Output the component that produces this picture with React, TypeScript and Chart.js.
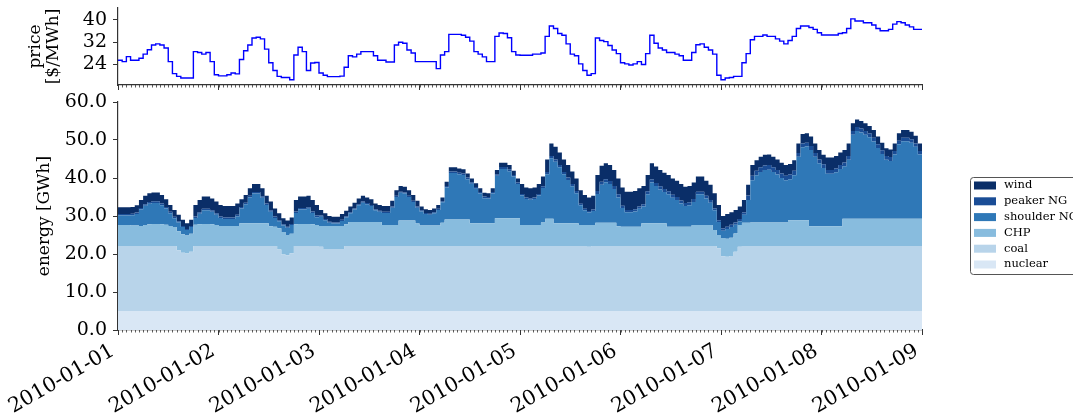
import React, { useEffect, useRef } from 'react';
import { Chart, registerables } from 'chart.js';
Chart.register(...registerables);

const FONT = "'DejaVu Serif', serif";
const AXIS = '#333333';

// x axis: hours since 2010-01-01 00:00
const hours = Array.from({ length: 193 }, (_, i) => i);
const dayTicks = [0, 24, 48, 72, 96, 120, 144, 168, 192];
const dayLabels = ['2010-01-01', '2010-01-02', '2010-01-03', '2010-01-04', '2010-01-05', '2010-01-06', '2010-01-07', '2010-01-08', '2010-01-09'];
const priceTicks = [24, 32, 40];
const energyTicks = [0, 10, 20, 30, 40, 50, 60];

// price [$/MWh]
const price = [
  25.5, 25.0, 26.8, 25.5, 25.5, 26.2, 27.7, 29.3, 31.0, 31.4, 31.0, 29.9, 25.0, 20.7, 19.7, 19.1, 19.1, 19.1, 28.6, 28.3, 27.7, 28.3, 25.0, 20.3,
  19.9, 19.9, 20.3, 20.9, 20.6, 25.8, 28.9, 31.0, 33.5, 33.8, 33.2, 29.5, 24.6, 21.8, 19.7, 19.3, 19.3, 18.5, 27.4, 30.2, 28.6, 21.8, 24.5, 24.7,
  20.9, 20.1, 19.6, 19.6, 19.6, 19.8, 23.0, 27.1, 26.7, 27.7, 28.6, 28.6, 28.6, 27.1, 25.5, 25.5, 24.9, 24.9, 31.0, 32.0, 31.6, 29.2, 28.1, 25.0,
  25.0, 25.0, 25.0, 25.0, 22.5, 27.4, 28.6, 34.8, 34.8, 34.8, 34.5, 33.8, 32.4, 28.6, 27.7, 26.7, 25.0, 25.0, 34.1, 35.3, 35.1, 33.6, 28.6, 27.4,
  27.3, 27.3, 27.3, 27.7, 27.7, 28.1, 34.1, 37.8, 36.9, 35.1, 34.5, 31.4, 27.7, 27.1, 24.2, 21.8, 20.1, 20.7, 33.5, 32.6, 32.2, 30.8, 29.2, 27.9,
  24.6, 24.2, 23.8, 24.2, 25.0, 24.0, 27.9, 34.5, 31.6, 29.9, 29.2, 28.3, 28.3, 27.7, 27.1, 25.5, 25.5, 28.3, 31.1, 31.4, 30.2, 29.2, 27.7, 20.1,
  18.5, 19.1, 19.3, 19.7, 19.7, 24.6, 27.9, 32.9, 34.1, 34.1, 34.6, 34.1, 34.1, 33.2, 32.4, 31.4, 32.6, 34.1, 36.9, 37.8, 37.8, 37.3, 36.6, 35.4,
  34.6, 34.6, 34.6, 34.6, 35.1, 35.4, 36.9, 40.4, 39.6, 39.6, 39.0, 39.0, 38.2, 36.9, 36.1, 36.1, 36.6, 38.5, 39.4, 39.0, 38.2, 37.5, 36.6, 36.6,
  36.6,
];

// energy [GWh] per technology
const nuclear = [
  5.0, 5.0, 5.0, 5.0, 5.0, 5.0, 5.0, 5.0, 5.0, 5.0, 5.0, 5.0, 5.0, 5.0, 5.0, 5.0, 5.0, 5.0, 5.0, 5.0, 5.0, 5.0, 5.0, 5.0,
  5.0, 5.0, 5.0, 5.0, 5.0, 5.0, 5.0, 5.0, 5.0, 5.0, 5.0, 5.0, 5.0, 5.0, 5.0, 5.0, 5.0, 5.0, 5.0, 5.0, 5.0, 5.0, 5.0, 5.0,
  5.0, 5.0, 5.0, 5.0, 5.0, 5.0, 5.0, 5.0, 5.0, 5.0, 5.0, 5.0, 5.0, 5.0, 5.0, 5.0, 5.0, 5.0, 5.0, 5.0, 5.0, 5.0, 5.0, 5.0,
  5.0, 5.0, 5.0, 5.0, 5.0, 5.0, 5.0, 5.0, 5.0, 5.0, 5.0, 5.0, 5.0, 5.0, 5.0, 5.0, 5.0, 5.0, 5.0, 5.0, 5.0, 5.0, 5.0, 5.0,
  5.0, 5.0, 5.0, 5.0, 5.0, 5.0, 5.0, 5.0, 5.0, 5.0, 5.0, 5.0, 5.0, 5.0, 5.0, 5.0, 5.0, 5.0, 5.0, 5.0, 5.0, 5.0, 5.0, 5.0,
  5.0, 5.0, 5.0, 5.0, 5.0, 5.0, 5.0, 5.0, 5.0, 5.0, 5.0, 5.0, 5.0, 5.0, 5.0, 5.0, 5.0, 5.0, 5.0, 5.0, 5.0, 5.0, 5.0, 5.0,
  5.0, 5.0, 5.0, 5.0, 5.0, 5.0, 5.0, 5.0, 5.0, 5.0, 5.0, 5.0, 5.0, 5.0, 5.0, 5.0, 5.0, 5.0, 5.0, 5.0, 5.0, 5.0, 5.0, 5.0,
  5.0, 5.0, 5.0, 5.0, 5.0, 5.0, 5.0, 5.0, 5.0, 5.0, 5.0, 5.0, 5.0, 5.0, 5.0, 5.0, 5.0, 5.0, 5.0, 5.0, 5.0, 5.0, 5.0, 5.0,
  5.0,
];
const coal = [
  17.1, 17.1, 17.1, 17.1, 17.1, 17.1, 17.1, 17.1, 17.1, 17.1, 17.1, 17.1, 17.1, 17.1, 16.0, 15.3, 15.1, 15.6, 17.1, 17.1, 17.1, 17.1, 17.1, 17.1,
  17.1, 17.1, 17.1, 17.1, 17.1, 17.1, 17.1, 17.1, 17.1, 17.1, 17.1, 17.1, 17.1, 17.1, 16.2, 14.9, 14.7, 15.2, 17.1, 17.1, 17.1, 17.1, 17.1, 17.1,
  16.9, 16.3, 16.3, 16.3, 16.3, 16.3, 17.1, 17.1, 17.1, 17.1, 17.1, 17.1, 17.1, 17.1, 17.1, 17.1, 17.1, 17.1, 17.1, 17.1, 17.1, 17.1, 17.1, 17.1,
  17.1, 17.1, 17.1, 17.1, 17.1, 17.1, 17.1, 17.1, 17.1, 17.1, 17.1, 17.1, 17.1, 17.1, 17.1, 17.1, 17.1, 17.1, 17.1, 17.1, 17.1, 17.1, 17.1, 17.1,
  17.1, 17.1, 17.1, 17.1, 17.1, 17.1, 17.1, 17.1, 17.1, 17.1, 17.1, 17.1, 17.1, 17.1, 17.1, 17.1, 16.9, 17.1, 17.1, 17.1, 17.1, 17.1, 17.1, 17.1,
  17.1, 17.1, 17.1, 17.1, 17.1, 17.1, 17.1, 17.1, 17.1, 17.1, 17.1, 17.1, 17.1, 17.1, 17.1, 17.1, 17.1, 17.1, 17.1, 17.1, 17.1, 17.1, 17.1, 16.5,
  14.4, 14.3, 14.5, 15.6, 16.9, 17.1, 17.1, 17.1, 17.1, 17.1, 17.1, 17.1, 17.1, 17.1, 17.1, 17.1, 17.1, 17.1, 17.1, 17.1, 17.1, 17.1, 17.1, 17.1,
  17.1, 17.1, 17.1, 17.1, 17.1, 17.1, 17.1, 17.1, 17.1, 17.1, 17.1, 17.1, 17.1, 17.1, 17.1, 17.1, 17.1, 17.1, 17.1, 17.1, 17.1, 17.1, 17.1, 17.1,
  17.1,
];
const chp = [
  5.5, 5.5, 5.5, 5.4, 5.4, 5.3, 5.5, 5.7, 5.8, 5.8, 5.7, 5.6, 5.3, 5.0, 5.0, 4.9, 4.8, 4.7, 5.6, 5.7, 5.8, 5.8, 5.7, 5.5,
  5.3, 5.3, 5.3, 5.3, 5.3, 6.0, 6.0, 6.0, 6.0, 6.0, 6.0, 6.0, 5.2, 5.1, 5.6, 5.9, 5.3, 5.1, 5.7, 5.8, 5.8, 5.8, 5.7, 5.5,
  5.5, 6.1, 6.1, 6.1, 6.1, 6.1, 5.7, 6.3, 6.3, 6.3, 6.3, 6.3, 6.3, 6.3, 6.3, 5.5, 5.5, 5.5, 5.5, 6.7, 6.7, 6.7, 6.7, 5.9,
  5.4, 5.4, 5.4, 5.4, 5.4, 6.1, 7.0, 7.0, 7.0, 7.0, 7.0, 7.0, 6.0, 6.0, 6.0, 6.0, 6.0, 6.0, 7.3, 7.3, 7.3, 7.3, 7.3, 7.3,
  5.5, 5.5, 5.5, 5.5, 5.5, 6.2, 7.2, 7.2, 6.0, 6.0, 6.0, 6.0, 6.0, 6.0, 5.5, 5.5, 5.7, 5.5, 6.1, 6.1, 6.1, 6.1, 6.1, 5.2,
  5.1, 5.1, 5.1, 5.1, 5.1, 6.0, 6.0, 6.0, 6.0, 6.0, 6.0, 5.1, 5.1, 5.1, 5.1, 5.1, 5.1, 5.5, 5.5, 5.5, 5.5, 5.5, 4.2, 3.5,
  4.8, 4.7, 4.8, 4.8, 5.7, 6.1, 6.1, 6.2, 6.2, 6.2, 6.2, 6.2, 6.2, 6.2, 6.2, 6.2, 6.8, 6.8, 6.8, 6.8, 6.8, 5.2, 5.2, 5.2,
  5.2, 5.2, 5.2, 5.2, 5.2, 7.2, 7.2, 7.2, 7.2, 7.2, 7.2, 7.2, 7.2, 7.2, 7.2, 7.2, 7.2, 7.2, 7.2, 7.2, 7.2, 7.2, 7.2, 7.2,
  7.2,
];
const shoulderNG = [
  2.5, 2.5, 2.5, 2.7, 3.0, 4.3, 5.1, 5.4, 5.5, 5.5, 5.0, 4.3, 3.3, 2.3, 2.3, 1.9, 1.4, 1.8, 1.8, 2.8, 3.6, 3.6, 3.3, 2.7,
  2.1, 1.8, 1.8, 1.8, 2.5, 3.9, 5.0, 6.8, 7.8, 7.8, 6.7, 4.8, 3.8, 2.3, 1.8, 1.7, 1.9, 2.3, 3.0, 3.8, 3.8, 4.0, 3.0, 2.1,
  2.4, 1.5, 0.8, 0.6, 0.6, 1.3, 1.8, 2.3, 3.3, 4.4, 5.1, 4.7, 4.2, 3.1, 2.7, 3.2, 3.2, 4.6, 7.4, 7.3, 7.1, 6.2, 4.9, 4.2,
  3.7, 3.0, 2.8, 3.2, 4.1, 5.4, 8.4, 12.2, 12.2, 11.9, 11.7, 10.6, 10.4, 9.1, 7.8, 6.6, 6.5, 7.8, 11.2, 13.0, 13.0, 12.4, 11.0, 9.0,
  7.8, 6.9, 6.7, 6.9, 7.8, 9.1, 11.7, 15.9, 16.2, 14.7, 12.9, 11.4, 9.7, 7.9, 5.2, 3.9, 3.3, 3.7, 7.6, 10.0, 10.7, 10.2, 8.9, 7.6,
  4.9, 3.8, 3.8, 4.0, 4.7, 4.4, 7.6, 10.7, 9.8, 8.9, 8.2, 8.5, 7.6, 7.0, 6.1, 5.4, 5.6, 6.1, 8.1, 8.1, 7.0, 5.9, 5.2, 3.4,
  1.9, 2.6, 2.8, 2.3, 1.0, 2.1, 6.0, 11.1, 12.4, 13.3, 13.8, 13.9, 13.3, 12.6, 11.7, 11.1, 10.8, 11.8, 16.7, 19.2, 19.4, 20.1, 18.3, 16.6,
  15.3, 13.8, 13.8, 14.2, 15.1, 13.8, 15.5, 22.1, 23.1, 22.7, 22.1, 21.4, 20.3, 18.6, 17.0, 15.5, 15.2, 16.9, 19.6, 20.4, 20.4, 20.0, 18.9, 16.9,
  16.9,
];
const peakerNG = [
  0.4, 0.4, 0.4, 0.4, 0.4, 0.4, 0.4, 0.5, 0.5, 0.5, 0.5, 0.4, 0.4, 0.4, 0.3, 0.3, 0.3, 0.3, 0.4, 0.4, 0.4, 0.4, 0.4, 0.4,
  0.4, 0.4, 0.4, 0.4, 0.4, 0.4, 0.4, 0.4, 0.4, 0.4, 0.4, 0.4, 0.4, 0.4, 0.3, 0.3, 0.3, 0.3, 0.4, 0.4, 0.4, 0.4, 0.4, 0.4,
  0.3, 0.3, 0.3, 0.3, 0.3, 0.3, 0.3, 0.3, 0.3, 0.3, 0.3, 0.3, 0.3, 0.3, 0.3, 0.3, 0.3, 0.3, 0.3, 0.3, 0.3, 0.3, 0.3, 0.3,
  0.3, 0.3, 0.3, 0.3, 0.3, 0.3, 0.4, 0.4, 0.4, 0.4, 0.4, 0.4, 0.4, 0.4, 0.4, 0.4, 0.4, 0.4, 0.4, 0.5, 0.5, 0.5, 0.4, 0.4,
  0.4, 0.4, 0.4, 0.4, 0.4, 0.4, 0.6, 0.6, 0.6, 0.6, 0.6, 0.6, 0.6, 0.6, 0.4, 0.4, 0.4, 0.4, 0.8, 0.8, 0.8, 0.8, 0.8, 0.8,
  0.6, 0.6, 0.6, 0.6, 0.6, 0.6, 0.8, 0.8, 0.8, 0.8, 0.8, 0.8, 0.8, 0.8, 0.8, 0.8, 0.8, 0.8, 0.7, 0.7, 0.7, 0.7, 0.5, 0.5,
  0.6, 0.6, 0.6, 0.6, 0.6, 0.6, 1.2, 1.2, 1.2, 1.2, 1.2, 1.2, 1.2, 1.2, 1.2, 1.2, 1.2, 1.2, 1.0, 1.0, 1.0, 1.0, 1.0, 1.0,
  1.0, 1.0, 1.0, 1.0, 1.0, 1.0, 1.0, 1.0, 1.0, 1.0, 1.0, 1.0, 1.0, 1.0, 1.0, 1.0, 1.0, 0.9, 0.9, 0.9, 0.9, 0.9, 0.9, 0.9,
  0.9,
];
const wind = [
  1.8, 1.8, 1.8, 1.8, 1.9, 2.1, 2.2, 2.3, 2.3, 2.3, 2.2, 2.0, 1.8, 1.8, 1.7, 1.6, 1.5, 1.6, 3.0, 3.2, 3.2, 3.2, 3.1, 3.1,
  3.0, 3.0, 3.0, 3.0, 3.0, 2.0, 2.0, 2.0, 2.1, 2.1, 2.1, 2.0, 2.3, 2.1, 1.8, 1.6, 1.6, 1.7, 3.0, 3.0, 3.0, 3.0, 3.0, 2.8,
  1.5, 1.5, 1.5, 1.5, 1.5, 1.5, 1.5, 1.5, 1.5, 1.5, 1.5, 1.5, 1.5, 1.5, 1.5, 1.5, 1.5, 1.5, 1.5, 1.5, 1.5, 1.5, 1.5, 1.5,
  1.0, 1.0, 1.0, 1.0, 1.0, 1.0, 1.1, 1.1, 1.1, 1.1, 1.1, 1.1, 1.0, 1.0, 1.0, 1.0, 1.0, 1.0, 1.1, 1.1, 1.1, 1.1, 1.1, 1.1,
  2.6, 2.6, 2.6, 2.6, 2.6, 2.6, 3.3, 3.3, 3.3, 3.3, 3.3, 3.3, 3.3, 3.3, 3.6, 3.6, 3.6, 3.6, 4.2, 4.2, 4.2, 4.2, 4.2, 4.2,
  4.8, 4.8, 4.8, 4.8, 4.8, 4.8, 4.3, 4.3, 4.3, 4.3, 4.3, 4.3, 4.3, 4.3, 4.3, 4.3, 4.3, 4.3, 4.0, 4.0, 4.0, 4.0, 4.0, 4.0,
  3.3, 3.3, 3.3, 3.3, 3.3, 3.3, 2.8, 2.8, 2.8, 2.8, 2.8, 2.8, 2.8, 2.8, 2.8, 2.8, 2.8, 2.8, 2.5, 2.5, 2.5, 2.5, 2.5, 2.5,
  2.5, 3.3, 3.3, 3.3, 3.3, 3.3, 3.3, 2.0, 2.0, 2.0, 2.0, 2.0, 2.0, 2.0, 2.0, 2.0, 2.0, 2.0, 2.0, 2.0, 2.0, 2.0, 2.0, 2.0,
  2.0,
];

const seriesNames = ['nuclear', 'coal', 'CHP', 'shoulder NG', 'peaker NG', 'wind'];
const seriesColors = ['#d9e7f5', '#b8d4ea', '#88bcde', '#2f78b7', '#1a4d96', '#0a2e68'];
const energySeries = [nuclear, coal, chp, shoulderNG, peakerNG, wind];

const minorTicks = {
  id: 'minorTicks',
  afterDraw(chart: any) {
    const xs = chart.scales.x;
    const ctx = chart.ctx;
    const y0 = chart.chartArea.bottom;
    ctx.save();
    ctx.strokeStyle = AXIS;
    ctx.lineWidth = 0.8;
    ctx.beginPath();
    for (const h of hours) {
      const px = Math.round(xs.getPixelForValue(h)) + 0.5;
      ctx.moveTo(px, y0);
      ctx.lineTo(px, y0 + 2.5);
    }
    ctx.stroke();
    ctx.restore();
  },
};

const boxLegend = {
  id: 'boxLegend',
  afterDraw(chart: any) {
    const ctx = chart.ctx;
    const x = 970.5, y = 87.5, w = 140, h = 97, r = 3;
    ctx.save();
    ctx.beginPath();
    ctx.moveTo(x + r, y);
    ctx.lineTo(x + w - r, y);
    ctx.arcTo(x + w, y, x + w, y + r, r);
    ctx.lineTo(x + w, y + h - r);
    ctx.arcTo(x + w, y + h, x + w - r, y + h, r);
    ctx.lineTo(x + r, y + h);
    ctx.arcTo(x, y + h, x, y + h - r, r);
    ctx.lineTo(x, y + r);
    ctx.arcTo(x, y, x + r, y, r);
    ctx.closePath();
    ctx.fillStyle = 'rgba(255,255,255,0.9)';
    ctx.fill();
    ctx.strokeStyle = '#555';
    ctx.lineWidth = 1;
    ctx.stroke();
    const ds = chart.data.datasets.slice().reverse();
    ctx.font = `11.5px ${FONT}`;
    ctx.textBaseline = 'middle';
    ctx.textAlign = 'left';
    ds.forEach((d: any, i: number) => {
      const cy = 95.5 + i * 15.8;
      ctx.fillStyle = d.backgroundColor;
      ctx.fillRect(974, cy - 4, 22, 8);
      ctx.fillStyle = '#000';
      ctx.fillText(d.label, 1004, cy);
    });
    ctx.restore();
  },
};

export default function App() {
  const priceRef = useRef<HTMLCanvasElement>(null);
  const energyRef = useRef<HTMLCanvasElement>(null);

  useEffect(() => {
    Chart.defaults.font.family = FONT;
    const yAxisCommon = {
      grid: { drawOnChartArea: false, drawTicks: true, tickLength: 5, tickColor: AXIS, tickWidth: 1 },
      border: { display: true, color: AXIS, width: 1.2 },
    };
    const pc = new Chart(priceRef.current as HTMLCanvasElement, {
      type: 'line',
      data: {
        labels: hours,
        datasets: [{
          label: 'price', data: price, borderColor: '#0000ff', borderWidth: 1.4,
          pointRadius: 0, stepped: true, fill: false,
        }],
      },
      options: {
        animation: false, responsive: true, maintainAspectRatio: false,
        layout: { padding: { left: 0, right: 151, top: 8, bottom: 0 } },
        plugins: { legend: { display: false }, tooltip: { enabled: false } },
        scales: {
          x: {
            type: 'linear', min: 0, max: 192,
            afterBuildTicks: (s: any) => { s.ticks = dayTicks.map((v) => ({ value: v })); },
            ticks: { autoSkip: false, callback: () => '', maxRotation: 0 },
            grid: { drawOnChartArea: false, drawTicks: true, tickLength: 5, tickColor: AXIS, tickWidth: 1 },
            border: { display: true, color: AXIS, width: 1.2 },
            afterFit: (s: any) => { s.height = 15; s.paddingLeft = 0; s.paddingRight = 0; },
          },
          y: {
            ...yAxisCommon,
            min: 16.6, max: 44.3,
            afterBuildTicks: (s: any) => { s.ticks = priceTicks.map((v) => ({ value: v })); },
            ticks: { font: { family: FONT, size: 19 }, color: '#000', padding: 6 },
            title: {
              display: true, text: ['price', '[$/MWh]'], color: '#000',
              font: { family: FONT, size: 17, lineHeight: 1.1 }, padding: { top: 26, bottom: 0 },
            },
            afterFit: (s: any) => { s.width = 118; s.paddingTop = 0; s.paddingBottom = 0; },
          },
        },
      },
      plugins: [minorTicks],
    } as any);

    const ec = new Chart(energyRef.current as HTMLCanvasElement, {
      type: 'line',
      data: {
        labels: hours,
        datasets: energySeries.map((d, i) => ({
          label: seriesNames[i], data: d, backgroundColor: seriesColors[i], borderColor: seriesColors[i],
          borderWidth: 0, pointRadius: 0, stepped: true, fill: i === 0 ? 'origin' : '-1',
        })),
      },
      options: {
        animation: false, responsive: true, maintainAspectRatio: false,
        layout: { padding: { left: 0, right: 151, top: 12, bottom: 0 } },
        plugins: { legend: { display: false }, tooltip: { enabled: false } },
        scales: {
          x: {
            type: 'linear', min: 0, max: 192,
            afterBuildTicks: (s: any) => { s.ticks = dayTicks.map((v) => ({ value: v })); },
            ticks: {
              autoSkip: false, minRotation: 30, maxRotation: 30, labelOffset: -5, padding: 4,
              font: { family: FONT, size: 20.5 }, color: '#000',
              callback: (v: any) => dayLabels[dayTicks.indexOf(Number(v))],
            },
            grid: { drawOnChartArea: false, drawTicks: true, tickLength: 5, tickColor: AXIS, tickWidth: 1 },
            border: { display: true, color: AXIS, width: 1.2 },
            afterFit: (s: any) => { s.height = 90; s.paddingLeft = 0; s.paddingRight = 0; },
          },
          y: {
            ...yAxisCommon,
            stacked: true, min: 0, max: 60,
            afterBuildTicks: (s: any) => { s.ticks = energyTicks.map((v) => ({ value: v })); },
            ticks: { font: { family: FONT, size: 19 }, color: '#000', padding: 6, callback: (v: any) => Number(v).toFixed(1) },
            title: {
              display: true, text: 'energy [GWh]', color: '#000',
              font: { family: FONT, size: 17, lineHeight: 1.1 }, padding: { top: 35, bottom: 0 },
            },
            afterFit: (s: any) => { s.width = 118; s.paddingTop = 0; s.paddingBottom = 0; },
          },
        },
      },
      plugins: [minorTicks, boxLegend],
    } as any);

    return () => { pc.destroy(); ec.destroy(); };
  }, []);

  return (
    <div style={{ position: 'absolute', left: 0, top: 0, width: 1073, height: 420, background: '#fff', overflow: 'hidden' }}>
      <div style={{ position: 'absolute', left: 0, top: 0, width: 1073, height: 100 }}>
        <canvas ref={priceRef} />
      </div>
      <div style={{ position: 'absolute', left: 0, top: 90, width: 1073, height: 330 }}>
        <canvas ref={energyRef} />
      </div>
    </div>
  );
}
